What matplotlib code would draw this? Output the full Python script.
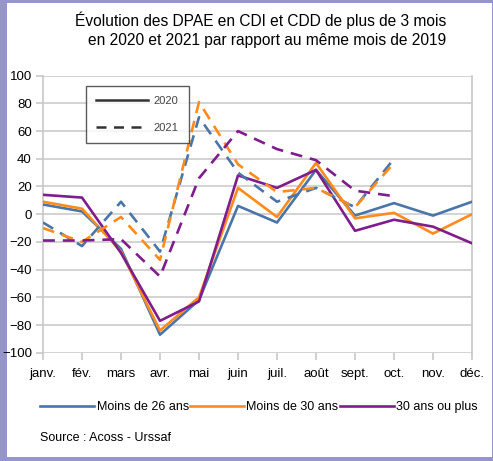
import matplotlib.pyplot as plt
from matplotlib.patches import Rectangle
from matplotlib.lines import Line2D

# Data
months = ['janv.', 'fév.', 'mars', 'avr.', 'mai', 'juin', 'juil.', 'août', 'sept.', 'oct.', 'nov.', 'déc.']
moins26_2020 = [7, 2, -25, -87, -62, 6, -6, 32, -1, 8, -1, 9]
moins30_2020 = [9, 4, -27, -84, -60, 19, -2, 37, -3, 1, -14, 0]
plus30_2020 = [14, 12, -28, -77, -63, 28, 19, 32, -12, -4, -9, -21]
moins26_2021 = [-6, -23, 9, -27, 70, 30, 9, 19, 5, 40]
moins30_2021 = [-10, -20, -2, -33, 81, 36, 16, 19, 5, 37]
plus30_2021 = [-19, -19, -18, -45, 26, 60, 47, 39, 17, 13]

blue = '#4a75a8'
orange = '#ff8b1d'
purple = '#7f1d8c'

plt.rcParams['font.family'] = ['Liberation Sans Narrow', 'Liberation Sans', 'DejaVu Sans']

W, H = 493, 461
fig = plt.figure(figsize=(W / 100, H / 100), dpi=100)
fig.patch.set_facecolor('#9595cc')
fig.add_artist(Rectangle((7 / W, 4 / H), (W - 8) / W, (H - 7) / H,
                         transform=fig.transFigure, facecolor='white',
                         edgecolor='none', zorder=0))

ax = fig.add_axes([43 / W, (H - 352.7) / H, 429 / W, 277 / H])
ax.set_facecolor('white')
x = list(range(12))

# Solid lines: 2020, dashed: 2021
ax.plot(x, moins26_2020, color=blue, lw=1.9, zorder=3)
ax.plot(x, moins30_2020, color=orange, lw=1.9, zorder=3)
ax.plot(x, plus30_2020, color=purple, lw=1.9, zorder=3)
dash = (0, (4.5, 3))
ax.plot(x[:10], moins26_2021, color=blue, lw=1.9, ls=dash, zorder=3)
ax.plot(x[:10], moins30_2021, color=orange, lw=1.9, ls=dash, zorder=3)
ax.plot(x[:10], plus30_2021, color=purple, lw=1.9, ls=dash, zorder=3)

ax.set_xlim(0, 11)
ax.set_ylim(-100, 100)
ax.set_yticks(range(-100, 101, 20))
ax.set_xticks(x)
ax.set_xticklabels(months)
ax.yaxis.grid(True, color='#cccccc', lw=1.2)
ax.set_axisbelow(True)
for side in ['top', 'bottom']:
    ax.spines[side].set_visible(False)
for side in ['left', 'right']:
    ax.spines[side].set_color('#c8c8c8')
    ax.spines[side].set_linewidth(1.2)
ax.tick_params(axis='both', colors='#c8c8c8', labelcolor='black',
               labelsize=9.5, length=5, width=1.2)
ax.tick_params(axis='x', pad=6)
ax.tick_params(axis='y', pad=3)

# Year legend inside plot
year_handles = [Line2D([], [], color='#333333', lw=1.8),
                Line2D([], [], color='#333333', lw=1.8, ls=(0, (4, 3)))]
leg = ax.legend(year_handles, ['2020', '2021'], loc='upper left',
                bbox_to_anchor=(43 / 429, 0.963), borderaxespad=0,
                fontsize=8, frameon=True, fancybox=False, handlelength=4.7,
                handletextpad=0.5, borderpad=0.9, labelspacing=1.55)
leg.get_frame().set_edgecolor('#333333')
leg.get_frame().set_linewidth(1.0)
for t in leg.get_texts():
    t.set_color('#444444')

# Series legend below plot
series_handles = [Line2D([], [], color=blue, lw=1.9),
                  Line2D([], [], color=orange, lw=1.9),
                  Line2D([], [], color=purple, lw=1.9)]
fig.legend(series_handles, ['Moins de 26 ans', 'Moins de 30 ans', '30 ans ou plus'],
           loc='center', bbox_to_anchor=(259 / W, (H - 407) / H), ncol=3,
           frameon=False, fontsize=9, handlelength=4.3, handletextpad=0.2,
           columnspacing=0.1)

fig.text(40 / W, (H - 438) / H, 'Source : Acoss - Urssaf', fontsize=9,
         va='center', ha='left')
fig.text(446 / W, (H - 30) / H,
         'Évolution des DPAE en CDI et CDD de plus de 3 mois\n'
         'en 2020 et 2021 par rapport au même mois de 2019',
         fontsize=11.2, ha='right', va='center', multialignment='right',
         linespacing=1.35)

fig.savefig('out.png', dpi=100, facecolor=fig.get_facecolor())
